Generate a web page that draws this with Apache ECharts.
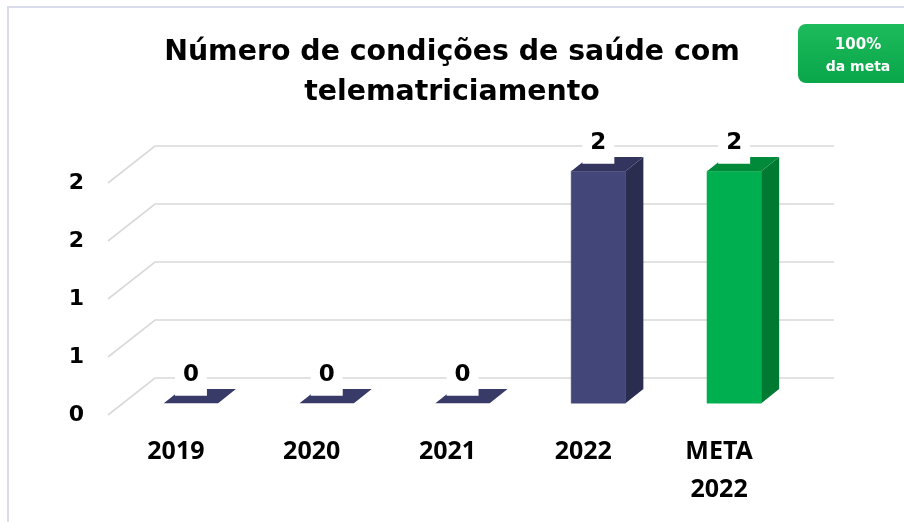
<!DOCTYPE html>
<html>
<head>
<meta charset="utf-8">
<title>Número de condições de saúde com telematriciamento</title>
<script src="https://cdn.jsdelivr.net/npm/echarts@6/dist/echarts.min.js"></script>
<style>
  html, body { margin: 0; padding: 0; background: #fff; }
  #chart { width: 904px; height: 522px; }
</style>
</head>
<body>
<div id="chart"></div>
<script>
// data
const categories = ['2019', '2020', '2021', '2022', 'META\n2022'];
const values = [0, 0, 0, 2, 2];
const yTicks = [0, 0.5, 1, 1.5, 2];

// 3d look: depth of the floor, bar position inside it
const DX = 47, DY = -37;
const F0 = 0.32, F1 = 0.70;
const BAR_W = 0.4;

const colors = [
  { front: '#434679', side: '#2b2d50', top: '#383a68' },
  { front: '#434679', side: '#2b2d50', top: '#383a68' },
  { front: '#434679', side: '#2b2d50', top: '#383a68' },
  { front: '#434679', side: '#2b2d50', top: '#33355f' },
  { front: '#00b050', side: '#007a33', top: '#008a3a' }
];

const chart = echarts.init(document.getElementById('chart'));

function renderGrid(params, api) {
  const cs = params.coordSys;
  const y = api.coord([0, api.value(1)])[1];
  return {
    type: 'polyline',
    shape: { points: [[cs.x, y], [cs.x + DX, y + DY], [cs.x + cs.width + DX, y + DY]] },
    style: { stroke: '#d9d9d9', lineWidth: 1.6, fill: null },
    silent: true
  };
}

function renderBar(params, api) {
  const idx = params.dataIndex;
  const c = colors[idx];
  const base = api.coord([api.value(0), 0]);
  const top = api.coord([api.value(0), api.value(1)]);
  const w = api.size([1, 0])[0] * BAR_W;
  const cx = base[0] + F0 * DX;
  const yb = base[1] + F0 * DY;
  const yt = top[1] + F0 * DY;
  const ddx = (F1 - F0) * DX, ddy = (F1 - F0) * DY;
  const l = cx - w / 2, r = cx + w / 2;
  const children = [];
  if (yb - yt > 0.5) {
    children.push({
      type: 'rect',
      shape: { x: l, y: yt, width: w, height: yb - yt },
      style: { fill: c.front, stroke: c.front, lineWidth: 0.5 }
    });
    children.push({
      type: 'polygon',
      shape: { points: [[r, yt], [r + ddx, yt + ddy], [r + ddx, yb + ddy], [r, yb]] },
      style: { fill: c.side }
    });
  }
  children.push({
    type: 'polygon',
    shape: { points: [[l, yt], [r, yt], [r + ddx, yt + ddy], [l + ddx, yt + ddy]] },
    style: { fill: c.top }
  });
  children.push({
    type: 'text',
    z2: 10,
    style: {
      text: String(api.value(1)),
      x: cx, y: yt - 28,
      align: 'center', verticalAlign: 'middle',
      font: 'bold 23px "DejaVu Sans", sans-serif',
      fill: '#000',
      backgroundColor: '#fff',
      padding: [9, 8]
    }
  });
  return { type: 'group', children: children };
}

chart.setOption({
  animation: false,
  title: {
    text: 'Número de condições de saúde com\ntelematriciamento',
    left: 'center',
    top: 28,
    textStyle: {
      fontFamily: '"DejaVu Sans", sans-serif',
      fontWeight: 'bold',
      fontSize: 28.4,
      lineHeight: 40,
      color: '#000'
    }
  },
  graphic: [
    {
      type: 'rect',
      shape: { x: 8, y: 7, width: 1000, height: 600 },
      style: { fill: null, stroke: '#dadbea', lineWidth: 2 },
      silent: true
    },
    {
      type: 'group',
      left: 798, top: 24,
      children: [
        {
          type: 'rect',
          shape: { x: 0, y: 0, width: 120, height: 59, r: 8 },
          style: {
            fill: new echarts.graphic.LinearGradient(0, 0, 0, 1, [
              { offset: 0, color: '#1dbb5c' },
              { offset: 1, color: '#0aa64a' }
            ])
          }
        },
        {
          type: 'text',
          style: {
            text: '100%', x: 60, y: 21, align: 'center', verticalAlign: 'middle',
            font: 'bold 15px "DejaVu Sans", sans-serif', fill: '#fff'
          }
        },
        {
          type: 'text',
          style: {
            text: 'da meta', x: 60, y: 43, align: 'center', verticalAlign: 'middle',
            font: 'bold 14px "DejaVu Sans", sans-serif', fill: '#fff'
          }
        }
      ]
    }
  ],
  grid: { left: 108, top: 183, width: 679, height: 232, containLabel: false },
  xAxis: {
    type: 'category',
    data: categories,
    axisLine: { show: false },
    axisTick: { show: false },
    axisLabel: {
      margin: 18,
      fontFamily: '"Noto Sans", sans-serif',
      fontWeight: 'bold',
      fontSize: 25,
      lineHeight: 38,
      color: '#000'
    }
  },
  yAxis: {
    type: 'value',
    min: 0,
    max: 2,
    interval: 0.5,
    axisLine: { show: false },
    axisTick: { show: false },
    splitLine: { show: false },
    axisLabel: {
      margin: 24,
      fontFamily: '"DejaVu Sans", sans-serif',
      fontWeight: 'bold',
      fontSize: 22,
      color: '#000',
      formatter: v => String(Math.round(v))
    }
  },
  series: [
    {
      type: 'custom',
      z: 1,
      renderItem: renderGrid,
      encode: { x: 0, y: 1 },
      data: yTicks.map(v => [0, v]),
      silent: true
    },
    {
      type: 'custom',
      z: 2,
      renderItem: renderBar,
      encode: { x: 0, y: 1 },
      data: values.map((v, i) => [i, v])
    }
  ]
});
</script>
</body>
</html>
